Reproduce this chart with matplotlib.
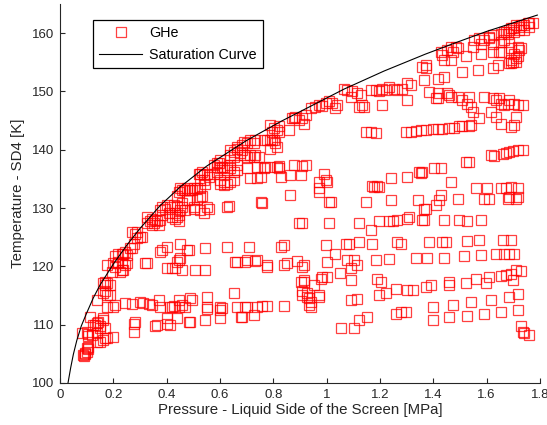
import matplotlib
matplotlib.use("Agg")
import matplotlib.pyplot as plt
from matplotlib.lines import Line2D

plt.rcParams['font.family'] = ['Liberation Sans', 'DejaVu Sans']

# Saturation curve
sat_p = [0.03, 0.04, 0.05, 0.063, 0.08, 0.1, 0.125, 0.15, 0.2, 0.25, 0.3, 0.375, 0.45,
         0.55, 0.7, 0.83, 0.92, 1.065, 1.215, 1.37, 1.48, 1.6, 1.79]
sat_t = [100, 102.6, 104.9, 107.3, 109.8, 112.0, 114.6, 116.8, 120.4, 123.6, 126.5, 130.4, 133.6,
         137.2, 141.6, 144.9, 147.0, 150.4, 153.5, 156.4, 158.3, 160.3, 163.1]

# GHe measurements, grouped by region (pressure MPa, temperature K)
a = [(0.09,104.6),(0.095,105.0),(0.10,105.3),(0.088,104.8),(0.094,105.1),(0.100,106.0),(0.106,106.2),(0.106,105.9),
     (0.138,107.1),(0.150,107.1),(0.162,107.4),(0.175,107.7),(0.200,107.9),(0.169,107.7),
     (0.106,108.4),(0.106,108.0),(0.082,108.5),(0.119,108.2),(0.138,108.5),(0.100,108.8),
     (0.113,111.4),(0.132,110.0),(0.138,110.3),(0.144,110.5),(0.163,111.1),(0.150,109.4),(0.125,109.9),(0.150,109.7),(0.163,110.8),(0.169,109.4),
     (0.138,114.2),(0.163,115.4),(0.169,115.7),(0.175,115.1),(0.188,115.1),(0.175,117.1),(0.169,116.8),(0.163,117.1),(0.188,116.8),(0.169,117.4)]
b = [(0.175,113.1),(0.200,113.1),(0.207,113.4),(0.244,113.8),(0.269,113.5),(0.301,113.9),(0.313,113.7),(0.332,113.5),(0.345,113.4),(0.370,114.2),
     (0.376,113.1),(0.414,113.1),(0.426,113.2),(0.445,114.2),(0.470,113.1),(0.495,114.2),(0.489,114.5),(0.551,114.8),(0.551,113.1),(0.551,112.7),
     (0.601,113.1),(0.601,112.6),(0.651,115.4),(0.664,113.1),(0.702,113.1),(0.739,113.1),(0.777,113.2),(0.607,112.8),(0.695,113.1),(0.758,113.2),
     (0.839,113.2),(0.445,113.1),(0.457,113.4),(0.420,113.1),
     (0.276,110.2),(0.276,108.8),(0.282,110.5),(0.357,109.7),(0.363,109.9),(0.401,111.1),(0.414,109.9),(0.482,110.5),(0.489,110.5),(0.545,110.8),
     (0.601,111.1),(0.677,111.4),(0.727,111.7),(0.683,111.4),(0.439,111.1),(0.401,110.2)]
c = [(0.175,120.2),(0.194,119.1),(0.207,119.9),(0.219,120.5),(0.232,119.4),(0.244,120.2),(0.251,120.5),(0.207,121.7),(0.219,122.2),(0.232,122.2),
     (0.244,122.5),(0.251,121.9),(0.269,123.1),(0.276,123.9),(0.288,124.8),(0.282,125.6),(0.301,125.1),(0.288,125.9),(0.238,122.2),(0.263,123.1),
     (0.225,119.1),(0.238,119.4),(0.200,120.5),(0.219,120.8),(0.232,120.5),(0.307,125.1),(0.269,125.9),
     (0.320,120.5),(0.326,120.5),(0.376,122.5),(0.382,122.8),(0.401,123.4),(0.401,119.7),(0.420,119.7),(0.439,120.8),(0.445,121.1),(0.451,123.9),
     (0.457,119.4),(0.482,122.8),(0.507,119.4),(0.545,119.4),(0.545,123.1),(0.626,123.4),(0.658,120.8),(0.664,120.8),(0.708,123.4),(0.702,121.1),
     (0.739,121.1),(0.777,120.2),(0.777,119.9),(0.827,123.4),(0.476,122.8),(0.451,121.4),(0.432,119.7),(0.695,120.8),(0.733,121.0),(0.852,120.5),
     (0.889,121.0),(0.908,119.9),(0.839,120.2),(0.915,120.2),(0.839,123.7)]
d = [(0.326,127.4),(0.338,127.7),(0.345,127.1),(0.351,127.4),(0.357,128.0),(0.363,127.7),(0.376,128.0),(0.370,127.1),(0.326,128.5),(0.345,128.2),
     (0.382,128.8),(0.382,130.2),(0.395,129.9),(0.401,130.5),(0.414,130.2),(0.426,130.5),(0.432,129.1),(0.439,128.5),(0.445,128.8),(0.451,129.7),
     (0.457,130.2),(0.470,129.7),(0.501,129.9),(0.526,129.7),(0.539,129.1),(0.557,129.9),(0.626,130.2),(0.632,130.4),(0.758,130.8),(0.752,131.0),
     (0.376,129.7),(0.407,129.1),(0.420,128.5),(0.439,130.2),(0.432,128.2),(0.445,127.7),(0.476,131.4),(0.501,130.2),(0.551,130.2),(0.457,130.8)]
e = [(0.445,132.8),(0.457,133.1),(0.470,133.1),(0.482,133.1),(0.495,133.1),(0.514,133.4),(0.526,133.4),(0.482,131.4),(0.514,131.6),(0.526,131.9),
     (0.532,132.0),(0.451,133.4),(0.439,132.0),(0.464,133.1),(0.476,133.4),(0.501,133.4),(0.489,133.1),
     (0.526,135.9),(0.539,135.7),(0.551,135.9),(0.526,134.8),(0.539,134.8),(0.545,134.2),(0.520,135.9),(0.532,136.2),(0.557,135.4),(0.576,135.9),
     (0.589,136.2),(0.601,134.8),(0.614,134.5),(0.626,134.2),(0.639,134.5),(0.651,134.8),(0.614,133.9),(0.601,134.2),
     (0.576,137.4),(0.589,137.1),(0.595,137.7),(0.601,136.8),(0.614,137.1),(0.626,136.5),(0.639,136.8),(0.651,136.2),(0.664,136.5),(0.589,137.7),
     (0.601,138.2),(0.607,137.1),(0.639,137.4),(0.664,137.4),(0.702,136.8),(0.739,137.1),(0.764,136.8),(0.789,137.1),(0.820,136.8),(0.739,135.1),
     (0.714,135.1),(0.752,135.4),(0.770,137.1),(0.820,137.2),(0.827,135.4),(0.864,135.7),(0.877,137.4),(0.902,135.7),(0.908,137.2),(0.814,137.1),
     (0.921,137.4)]
f = [(0.639,140.0),(0.651,139.7),(0.664,140.2),(0.676,139.4),(0.683,140.0),(0.689,139.1),(0.702,138.8),(0.714,139.1),(0.733,139.1),(0.745,138.8),
     (0.651,138.8),(0.639,139.1),(0.664,140.5),(0.683,140.8),(0.727,138.8),
     (0.689,141.4),(0.702,141.1),(0.714,141.7),(0.727,141.1),(0.733,141.7),(0.764,141.7),(0.777,141.7),(0.789,141.7),(0.802,141.7),(0.795,141.7),
     (0.808,141.1),(0.789,140.2),(0.814,140.5),
     (0.802,143.7),(0.814,143.4),(0.820,144.0),(0.796,143.1),(0.858,143.4),(0.820,143.1),(0.789,144.2),
     (0.871,145.4),(0.883,145.7),(0.896,145.1),(0.908,145.4),(0.877,145.4),(0.915,144.5),(0.921,145.9)]
g = [(0.940,147.1),(0.958,147.4),(0.971,147.7),(0.983,147.5),(0.996,148.0),(1.008,148.3),(1.021,148.1),(1.040,147.7),(1.033,147.1),
     (1.065,150.5),(1.077,150.2),(1.090,149.1),(1.096,150.0),(1.115,149.7),(1.128,149.4),(1.134,147.7),(1.121,147.4),(1.140,147.4),(1.165,150.2),
     (1.184,150.2),(1.196,150.0),(1.209,150.5),(1.221,150.2),(1.234,150.8),(1.253,150.5),(1.265,150.2),(1.284,150.5),(1.303,151.4),(1.315,151.1),
     (1.303,148.5),(1.209,147.7)]
h = [(1.146,143.1),(1.165,143.1),(1.184,142.9),(1.296,143.1),(1.315,143.1),(1.334,143.3),(1.353,143.4),(1.372,143.4),(1.397,143.5),(1.416,143.5),
     (1.434,143.6),(1.459,143.7),(1.478,143.7),(1.497,144.0),(1.509,144.1),(1.534,144.1),(1.541,144.2)]
i = [(1.384,149.9),(1.416,149.7),(1.416,148.8),(1.453,149.7),(1.466,149.1),(1.491,149.1),(1.509,148.5),(1.534,149.1),(1.528,147.9),(1.541,147.4),
     (1.547,146.5),(1.572,145.4),(1.591,149.1),(1.622,148.8),(1.635,148.5),(1.647,148.8),(1.654,147.9),(1.666,147.7),(1.679,147.9),(1.685,148.5),
     (1.704,147.9),(1.716,147.7),(1.735,147.7),(1.616,146.5),(1.635,145.7),(1.654,144.5),(1.691,143.9),(1.704,144.2),(1.710,145.7),(1.409,148.8),
     (1.459,149.4),
     (1.365,151.9),(1.416,152.2),(1.441,152.5),(1.372,154.5),(1.372,154.0),(1.509,153.4),(1.566,153.7),(1.622,154.0),(1.641,154.5),(1.685,154.8),
     (1.359,154.2),
     (1.466,157.7),(1.453,157.1),(1.472,156.8),(1.428,156.8),(1.434,156.2),(1.441,155.4),(1.466,155.4),(1.491,157.4),(1.484,157.7),
     (1.547,157.7),(1.578,156.5),(1.622,156.8),(1.654,156.8),(1.522,156.0),(1.647,156.8),
     (1.553,158.8),(1.572,159.1),(1.591,158.8),(1.610,159.1),(1.622,158.2),(1.578,158.2),(1.610,159.4),(1.622,159.7),(1.654,159.9),(1.666,158.8),
     (1.685,158.5),(1.654,158.5),(1.691,157.4),(1.716,157.7),(1.722,157.1),(1.704,156.5),(1.710,155.7),(1.691,155.4),(1.698,155.1),(1.716,156.0),
     (1.691,154.8),(1.729,157.4),(1.710,155.1),
     (1.691,160.8),(1.710,161.4),(1.722,161.1),(1.741,161.4),(1.754,161.7),(1.760,161.1),(1.773,161.7),(1.704,160.2),(1.679,159.9),(1.666,160.2),
     (1.722,160.5),(1.741,160.5),(1.672,160.2),(1.685,160.5),(1.698,160.8),(1.729,161.4),(1.760,161.7)]
j = [(1.616,139.1),(1.628,138.9),(1.660,139.3),(1.672,139.5),(1.685,139.7),(1.698,139.8),(1.716,139.9),(1.735,140.0),(1.522,137.9),(1.534,137.9),
     (1.403,136.8),(1.428,136.8),(1.347,136.2),(1.303,135.4),(1.240,135.1),(1.178,133.6),(1.196,133.6),(1.466,134.5),(1.359,136.2)]
k = [(1.560,133.4),(1.603,133.4),(1.654,133.4),(1.672,133.4),(1.691,133.6),(1.716,133.4),(1.685,131.9),(1.710,131.6),(1.591,131.6),(1.610,131.6),
     (1.491,131.6),(1.716,131.9),(1.679,131.6),
     (1.428,132.2),(1.422,131.4),(1.409,130.5),(1.372,129.9),(1.341,131.4),(1.365,129.9),(1.240,131.4),(1.146,131.1),(1.009,131.1),(1.015,131.1),
     (0.971,134.5),(0.971,133.4),(0.971,132.8),(0.996,134.8),(0.990,135.9),(1.002,134.5),(0.864,132.2),(1.190,133.8),(1.171,133.8),(1.353,136.1)]
l = [(0.908,127.4),(1.009,127.4),(1.121,127.4),(1.165,126.2),(1.196,127.7),(1.234,127.7),(1.247,127.7),(1.265,128.0),(1.303,128.2),(1.309,128.5),
     (1.359,128.0),(0.896,127.4),(1.365,128.0),(1.441,128.0),(1.497,128.0),(1.528,127.8),(1.578,128.0)]
m = [(0.996,123.7),(1.033,122.2),(1.002,120.8),(1.071,123.9),(1.084,123.9),(1.121,124.2),(1.171,123.9),(1.265,124.2),(1.278,123.9),(1.077,121.1),
     (1.102,121.1),(1.115,120.2),(1.090,119.7),(1.184,121.1),(1.234,121.2),(1.334,121.4),
     (1.384,124.2),(1.434,124.2),(1.447,124.2),(1.528,124.4),(1.572,124.5),(1.660,124.5),(1.691,124.5),
     (1.378,121.4),(1.441,121.5),(1.516,121.8),(1.578,121.9),(1.635,122.1),(1.666,122.1),(1.685,122.1),(1.704,122.1)]
n = [(1.050,118.9),(1.090,117.7),(1.190,117.8),(1.203,117.4),(0.977,117.9),(0.983,118.2),(1.002,118.2),(0.915,117.4),(0.952,116.8),(0.971,115.1),
     (0.927,115.4),(0.908,115.7),(0.933,114.5),(0.933,113.4),(0.940,113.9),(1.090,114.2),(1.115,114.4),(1.196,115.1),(1.221,115.4),(1.259,116.2),
     (1.303,115.9),(1.322,115.9),(1.372,116.5),(0.902,117.4),(0.908,115.1),(0.915,117.7),(0.971,114.8),(0.927,114.8),(0.940,113.1),
     (1.560,117.9),(1.597,117.2),(1.610,118.2),(1.654,118.3),(1.672,118.5),(1.691,118.7),(1.710,119.4),(1.729,119.2),(1.698,117.7),
     (1.391,116.8),(1.459,117.4),(1.459,116.8),(1.522,117.1),
     (1.397,113.1),(1.472,113.4),(1.541,113.9),(1.616,114.2),(1.685,114.8),(1.716,115.3)]
o = [(1.121,110.8),(1.152,111.4),(1.052,109.4),(1.102,109.5),(1.259,111.9),(1.278,112.2),(1.296,112.2),
     (1.397,110.8),(1.459,111.4),(1.528,111.5),(1.591,111.9),(1.654,112.2),(1.716,112.5),
     (1.729,109.7),(1.735,108.8),(1.741,108.5),(1.760,108.2)]

groups = [a, b, c, d, e, f, g, h, i, j, k, l, m, n, o]
pressure = [pt[0] for grp in groups for pt in grp]
temperature = [pt[1] for grp in groups for pt in grp]

x_ticks = [0, 0.2, 0.4, 0.6, 0.8, 1.0, 1.2, 1.4, 1.6, 1.8]
x_tick_labels = ['0', '0.2', '0.4', '0.6', '0.8', '1', '1.2', '1.4', '1.6', '1.8']
y_ticks = [100, 110, 120, 130, 140, 150, 160]

fig = plt.figure(figsize=(5.47, 4.25), dpi=100)
ax = fig.add_axes([60/547, 42/425, 480/547, 379/425])

ax.plot(pressure, temperature, linestyle='none', marker='s', markersize=7.4,
        markerfacecolor='none', markeredgecolor='red', markeredgewidth=0.9, alpha=0.75)
ax.plot(sat_p, sat_t, color='black', linewidth=0.8)

ax.set_xlim(0, 1.8)
ax.set_ylim(100, 165)
ax.set_xticks(x_ticks)
ax.set_xticklabels(x_tick_labels)
ax.set_yticks(y_ticks)
ax.spines['top'].set_visible(False)
ax.spines['right'].set_visible(False)
for s in ['left', 'bottom']:
    ax.spines[s].set_color('#262626')
    ax.spines[s].set_linewidth(0.8)
ax.tick_params(direction='in', length=3.5, width=0.8, colors='#262626', labelsize=9.5, pad=4)

ax.set_xlabel('Pressure - Liquid Side of the Screen [MPa]', fontsize=10.8, color='#262626', labelpad=2)
ax.set_ylabel('Temperature - SD4 [K]', fontsize=10.8, color='#262626', labelpad=5)

handles = [Line2D([], [], linestyle='none', marker='s', markersize=7.4, markerfacecolor='none',
                  markeredgecolor='red', markeredgewidth=0.9, alpha=0.75),
           Line2D([], [], color='black', linewidth=0.8)]
leg = ax.legend(handles, ['GHe', 'Saturation Curve'], loc='upper left',
                bbox_to_anchor=(33/480, (383-20)/379), fontsize=10.3, fancybox=False,
                framealpha=1, edgecolor='black', handlelength=3.0, labelspacing=0.5,
                borderpad=0.45, handletextpad=0.45, borderaxespad=0)
leg.get_frame().set_linewidth(0.9)

fig.savefig('out.png', dpi=100)
